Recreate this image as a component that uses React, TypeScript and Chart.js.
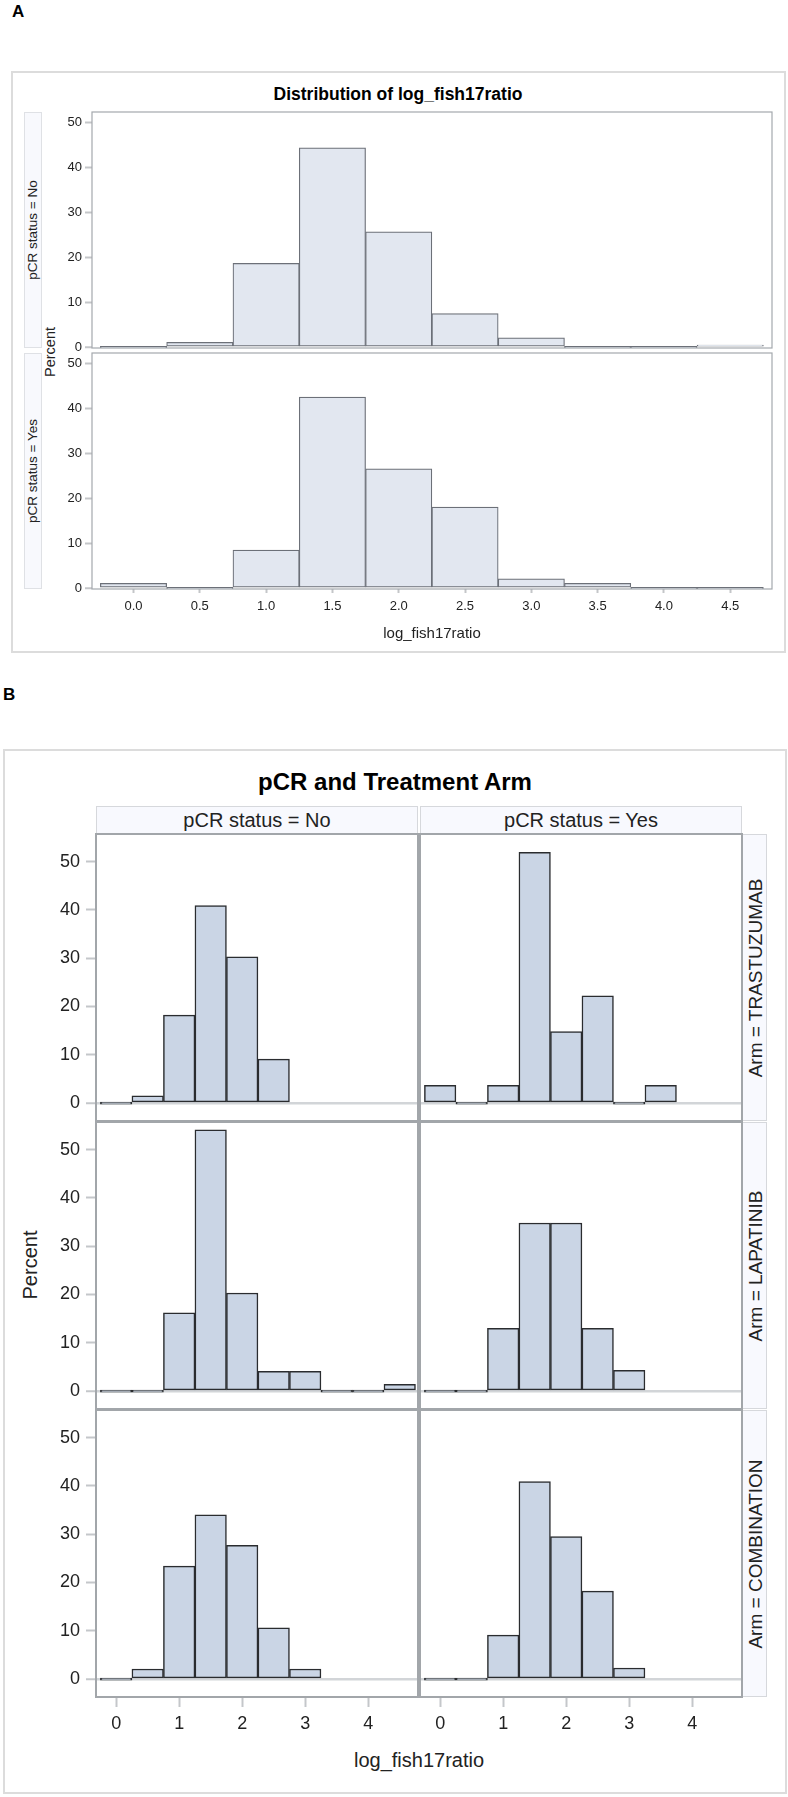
import React, { useEffect, useRef } from "react";
import { Chart, registerables } from "chart.js";

Chart.register(...registerables);

const FONT = "'Liberation Sans', Arial, Helvetica, sans-serif";

// ---------- Panel A data ----------
const binCentersA = [0, 0.5, 1, 1.5, 2, 2.5, 3, 3.5, 4, 4.5];
const xTicksA = [0, 0.5, 1, 1.5, 2, 2.5, 3, 3.5, 4, 4.5];
const xTickLabelsA = ["0.0", "0.5", "1.0", "1.5", "2.0", "2.5", "3.0", "3.5", "4.0", "4.5"];
const yTicksA = [0, 10, 20, 30, 40, 50];
const pctNoA = [0, 1.1, 18.7, 44.4, 25.7, 7.5, 2.1, 0, 0, 0.5];
const pctYesA = [1.1, 0, 8.5, 42.6, 26.6, 18.1, 2.1, 1.1, 0, 0];
const stripLabelsA = ["pCR status = No", "pCR status = Yes"];

// ---------- Panel B data ----------
const binCentersB = [0, 0.5, 1, 1.5, 2, 2.5, 3, 3.5, 4, 4.5];
const xTicksB = [0, 1, 2, 3, 4];
const xTickLabelsB = ["0", "1", "2", "3", "4"];
const yTicksB = [0, 10, 20, 30, 40, 50];
const colLabelsB = ["pCR status = No", "pCR status = Yes"];
const rowLabelsB = ["Arm = TRASTUZUMAB", "Arm = LAPATINIB", "Arm = COMBINATION"];
const trastNo = [0, 1.5, 18.2, 40.9, 30.3, 9.1, null, null, null, null];
const trastYes = [3.7, 0, 3.7, 51.9, 14.8, 22.2, 0, 3.7, null, null];
const lapNo = [0, 0, 16.2, 54.1, 20.3, 4.1, 4.1, 0, 0, 1.4];
const lapYes = [0, 0, 13.0, 34.8, 34.8, 13.0, 4.3, null, null, null];
const combNo = [0, 2.1, 23.4, 34.0, 27.7, 10.6, 2.1, null, null, null];
const combYes = [0, 0, 9.1, 40.9, 29.5, 18.2, 2.3, null, null, null];

const framePlugin = {
  id: "frame",
  afterDraw(chart: any, _args: any, opts: any) {
    const { ctx, chartArea } = chart;
    if (!chartArea) return;
    ctx.save();
    ctx.strokeStyle = opts.color;
    ctx.lineWidth = opts.width;
    ctx.strokeRect(chartArea.left, chartArea.top, chartArea.right - chartArea.left, chartArea.bottom - chartArea.top);
    ctx.restore();
  },
};

type CellProps = {
  area: { l: number; t: number; w: number; h: number };
  pad: { l: number; t: number; r: number; b: number };
  centers: number[];
  values: (number | null)[];
  xMin: number; xMax: number; yMin: number; yMax: number;
  xTicks: number[]; xLabels: string[]; yTicks: number[];
  showX: boolean; showY: boolean;
  fill: string; border: string; borderWidth: number;
  frameColor: string; frameWidth: number;
  zeroLine: boolean;
  tickSize: number;
  yTickLen: number; yTickPad: number;
  xTickLen: number; xTickPad: number;
  tickMarkColor: string;
};

function HistCell(p: CellProps) {
  const ref = useRef<HTMLCanvasElement | null>(null);
  const W = p.area.w + p.pad.l + p.pad.r;
  const H = p.area.h + p.pad.t + p.pad.b;
  useEffect(() => {
    if (!ref.current) return;
    const font = { family: FONT, size: p.tickSize };
    const chart = new Chart(ref.current, {
      type: "bar",
      data: {
        datasets: [
          {
            data: p.centers.map((c, i) => ({ x: c, y: p.values[i] })) as any,
            backgroundColor: p.fill,
            borderColor: p.border,
            borderWidth: p.borderWidth,
            borderSkipped: false,
            minBarLength: 2,
            barPercentage: 1,
            categoryPercentage: 1,
          } as any,
        ],
      },
      options: {
        responsive: false,
        maintainAspectRatio: false,
        animation: false,
        devicePixelRatio: 1,
        events: [],
        layout: {
          padding: {
            left: p.showY ? 0 : p.pad.l,
            top: p.pad.t,
            right: p.pad.r,
            bottom: p.showX ? 0 : p.pad.b,
          },
        },
        plugins: {
          legend: { display: false },
          tooltip: { enabled: false },
          frame: { color: p.frameColor, width: p.frameWidth },
        } as any,
        scales: {
          x: {
            type: "linear",
            min: p.xMin,
            max: p.xMax,
            offset: false,
            display: p.showX,
            afterBuildTicks: (s: any) => {
              s.ticks = p.xTicks.map((v) => ({ value: v }));
            },
            afterFit: (s: any) => {
              s.height = p.showX ? p.pad.b : 0;
            },
            grid: {
              offset: false,
              drawOnChartArea: false,
              drawTicks: true,
              tickLength: p.xTickLen,
              tickColor: p.tickMarkColor,
              tickWidth: 2,
            },
            border: { display: false },
            ticks: {
              font,
              color: "#222",
              padding: p.xTickPad,
              maxRotation: 0,
              autoSkip: false,
              callback: (_v: any, i: number) => p.xLabels[i],
            },
          },
          y: {
            type: "linear",
            min: p.yMin,
            max: p.yMax,
            display: true,
            afterBuildTicks: (s: any) => {
              s.ticks = p.yTicks.map((v) => ({ value: v }));
            },
            afterFit: (s: any) => {
              s.width = p.showY ? p.pad.l : 0;
            },
            grid: {
              color: (ctx: any) =>
                p.zeroLine && ctx.tick && ctx.tick.value === 0 ? "#d2d5d8" : "rgba(0,0,0,0)",
              lineWidth: (ctx: any) => (ctx.tick && ctx.tick.value === 0 ? 2.5 : 1),
              drawTicks: p.showY,
              tickLength: p.yTickLen,
              tickColor: p.tickMarkColor,
              tickWidth: 2,
            },
            border: { display: false },
            ticks: {
              display: p.showY,
              font,
              color: "#222",
              padding: p.yTickPad,
              autoSkip: false,
              callback: (v: any) => String(v),
            },
          },
        },
      } as any,
      plugins: [framePlugin as any],
    });
    return () => chart.destroy();
  }, []);
  return (
    <canvas
      ref={ref}
      width={W}
      height={H}
      style={{
        position: "absolute",
        left: p.area.l - p.pad.l,
        top: p.area.t - p.pad.t,
        width: W,
        height: H,
      }}
    />
  );
}

function Txt(props: {
  x: number; y: number; text: string; size: number; bold?: boolean; rotate?: boolean; color?: string; left?: boolean;
}) {
  const tf = props.left
    ? "translate(0,-50%)"
    : props.rotate
    ? "translate(-50%,-50%) rotate(-90deg)"
    : "translate(-50%,-50%)";
  return (
    <div
      style={{
        position: "absolute",
        left: props.x,
        top: props.y,
        transform: tf,
        fontFamily: FONT,
        fontSize: props.size,
        fontWeight: props.bold ? "bold" : "normal",
        lineHeight: 1,
        whiteSpace: "nowrap",
        color: props.color || "#111",
      }}
    >
      {props.text}
    </div>
  );
}

function Box(props: { l: number; t: number; r: number; b: number; border: string; bw: number; bg?: string }) {
  return (
    <div
      style={{
        position: "absolute",
        left: props.l,
        top: props.t,
        width: props.r - props.l,
        height: props.b - props.t,
        border: `${props.bw}px solid ${props.border}`,
        background: props.bg || "transparent",
        boxSizing: "border-box",
      }}
    />
  );
}

export default function App() {
  // Panel A geometry
  const aCells = [
    { t: 112, values: pctNoA, showX: false },
    { t: 353, values: pctYesA, showX: true },
  ];
  // Panel B geometry
  const bCols = [96, 420];
  const bRows = [834, 1122, 1410];
  const bValues = [
    [trastNo, trastYes],
    [lapNo, lapYes],
    [combNo, combYes],
  ];

  return (
    <div
      style={{
        position: "absolute",
        left: 0,
        top: 0,
        width: 788,
        height: 1797,
        background: "#fff",
        overflow: "hidden",
      }}
    >
      {/* ---------------- Panel A ---------------- */}
      <Txt x={12} y={11} text="A" size={17} bold left color="#000" />
      <Box l={11} t={71} r={786} b={653} border="#dcdcdc" bw={2} />
      <Txt x={398} y={95} text="Distribution of log_fish17ratio" size={17.5} bold color="#000" />
      {aCells.map((c, i) => (
        <Box key={"as" + i} l={24} t={c.t} r={42} b={c.t + 236} border="#dfe1e5" bw={1} bg="#f8f9fd" />
      ))}
      {aCells.map((c, i) => (
        <Txt key={"al" + i} x={33} y={c.t + 118} text={stripLabelsA[i]} size={13.5} rotate color="#222" />
      ))}
      <Txt x={50} y={352} text="Percent" size={14.5} rotate color="#222" />
      {aCells.map((c, i) => (
        <HistCell
          key={"ac" + i}
          area={{ l: 92, t: c.t, w: 680, h: 236 }}
          pad={{ l: 70, t: 14, r: 10, b: c.showX ? 36 : 14 }}
          centers={binCentersA}
          values={c.values}
          xMin={-0.313}
          xMax={4.815}
          yMin={-0.15}
          yMax={52.4}
          xTicks={xTicksA}
          xLabels={xTickLabelsA}
          yTicks={yTicksA}
          showX={c.showX}
          showY={true}
          fill="#e2e7f0"
          border="#6c7078"
          borderWidth={1.2}
          frameColor="#a4a8ad"
          frameWidth={1.2}
          zeroLine={false}
          tickSize={13}
          yTickLen={7}
          yTickPad={3}
          xTickLen={4}
          xTickPad={6}
          tickMarkColor="#c4c6c9"
        />
      ))}
      <Txt x={432} y={632} text="log_fish17ratio" size={15} color="#222" />

      {/* ---------------- Panel B ---------------- */}
      <Txt x={3} y={694} text="B" size={17} bold left color="#000" />
      <Box l={3} t={749} r={787} b={1794} border="#dcdcdc" bw={2} />
      <Txt x={395} y={782} text="pCR and Treatment Arm" size={24} bold color="#000" />
      {bCols.map((l, i) => (
        <Box key={"bh" + i} l={l} t={806} r={l + 322} b={834} border="#d6d8dc" bw={1} bg="#f8f9fe" />
      ))}
      {bCols.map((l, i) => (
        <Txt key={"bhl" + i} x={l + 161} y={820} text={colLabelsB[i]} size={20} color="#222" />
      ))}
      {bRows.map((t, i) => (
        <Box key={"br" + i} l={742} t={t} r={767} b={t + 287} border="#d6d8dc" bw={1} bg="#f8f9fe" />
      ))}
      {bRows.map((t, i) => (
        <Txt key={"brl" + i} x={755} y={t + 143.5} text={rowLabelsB[i]} size={19} rotate color="#222" />
      ))}
      <Txt x={30} y={1265} text="Percent" size={20} rotate color="#222" />
      {bRows.map((t, ri) =>
        bCols.map((l, ci) => (
          <HistCell
            key={"bc" + ri + "_" + ci}
            area={{ l, t, w: 322, h: 287 }}
            pad={{ l: ci === 0 ? 80 : 6, t: 22, r: 6, b: ri === 2 ? 46 : 22 }}
            centers={binCentersB}
            values={bValues[ri][ci]}
            xMin={-0.32}
            xMax={4.79}
            yMin={-3.7}
            yMax={55.7}
            xTicks={xTicksB}
            xLabels={xTickLabelsB}
            yTicks={yTicksB}
            showX={ri === 2}
            showY={ci === 0}
            fill="#cad5e5"
            border="#2a2c2f"
            borderWidth={1.5}
            frameColor="#a2a6aa"
            frameWidth={2}
            zeroLine={true}
            tickSize={18}
            yTickLen={10}
            yTickPad={6}
            xTickLen={10}
            xTickPad={6}
            tickMarkColor="#c4c7ca"
          />
        ))
      )}
      <Txt x={419} y={1760} text="log_fish17ratio" size={20} color="#222" />
    </div>
  );
}
